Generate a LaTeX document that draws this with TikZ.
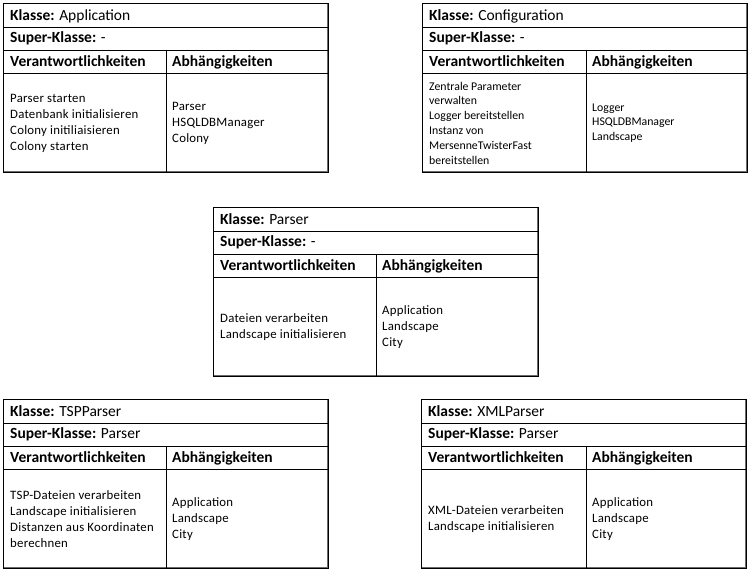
\documentclass[tikz,border=0pt]{standalone}
\usepackage{fontspec}
\setmainfont{Carlito}
\tikzset{
  cell/.style={draw=black, line width=1pt},
  shadowedge/.style={draw=black!58, line width=2pt},
  ttl/.style={anchor=base west, inner sep=0pt, font=\fontsize{15.5}{18}\selectfont},
  body/.style={anchor=west, inner sep=0pt, align=left, font=\fontsize{12.8}{16}\selectfont\addfontfeature{LetterSpace=2}},
  smallbody/.style={anchor=west, inner sep=0pt, align=left, font=\fontsize{11.8}{14.8}\selectfont},
}
\newcommand\crccard[9]{%
  \draw[shadowedge] (#2+325,#3) -- (#2+325,#3+169) -- (#2,#3+169);
  \draw[cell] (#2,#3) rectangle (#2+325,#3+169);
  \draw[cell] (#2,#3+24) -- (#2+325,#3+24);
  \draw[cell] (#2,#3+47) -- (#2+325,#3+47);
  \draw[cell] (#2,#3+70) -- (#2+325,#3+70);
  \draw[cell] (#4,#3+47) -- (#4,#3+169);
  \node[ttl] (#1-k) at (#2+7,#3+17.5) {\textbf{Klasse:} #5};
  \node[ttl] (#1-s) at (#2+7,#3+39.8) {\textbf{Super-Klasse:} #6};
  \node[ttl] (#1-v) at (#2+7,#3+63.5) {\textbf{Verantwortlichkeiten}};
  \node[ttl] (#1-a) at (#4+6,#3+63.5) {\textbf{Abhängigkeiten}};
  \node[#9] (#1-l) at (#2+7,#3+120) {#7};
  \node[#9] (#1-r) at (#4+6,#3+120) {#8};
}
\begin{document}
\begin{tikzpicture}[x=1pt, y=-1pt]
  \useasboundingbox (0,0) rectangle (749,570);
  \crccard{app}{3}{3}{166}{Application}{-}%
    {Parser starten\\Datenbank initialisieren\\Colony initiliaisieren\\Colony starten}%
    {Parser\\HSQLDBManager\\Colony}{body}
  \crccard{conf}{422}{3}{586}{Configuration}{-}%
    {Zentrale Parameter\\verwalten\\Logger bereitstellen\\Instanz von\\MersenneTwisterFast\\bereitstellen}%
    {Logger\\HSQLDBManager\\Landscape}{smallbody}
  \crccard{pars}{213}{207}{376}{Parser}{-}%
    {Dateien verarbeiten\\Landscape initialisieren}%
    {Application\\Landscape\\City}{body}
  \crccard{tsp}{3}{399}{166}{TSPParser}{Parser}%
    {TSP-Dateien verarbeiten\\Landscape initialisieren\\Distanzen aus Koordinaten\\berechnen}%
    {Application\\Landscape\\City}{body}
  \crccard{xml}{421}{399}{586}{XMLParser}{Parser}%
    {XML-Dateien verarbeiten\\Landscape initialisieren}%
    {Application\\Landscape\\City}{body}
\end{tikzpicture}
\end{document}
